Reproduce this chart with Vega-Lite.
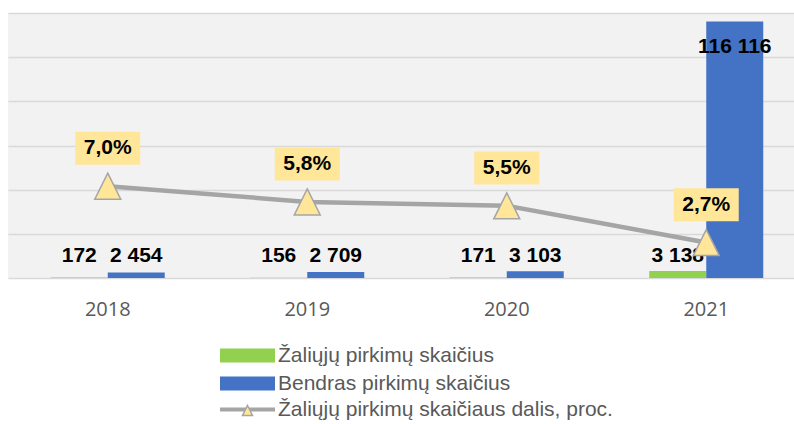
{
  "$schema": "https://vega.github.io/schema/vega-lite/v6.json",
  "width": 798,
  "height": 265,
  "autosize": "none",
  "padding": {"left": 8, "top": 13, "right": 0, "bottom": 146},
  "background": "white",
  "config": {
    "locale": {"number": {"decimal": ",", "thousands": " ", "grouping": [3], "currency": ["", " €"]}},
    "view": {"fill": "#f2f2f2", "stroke": null},
    "font": "Liberation Sans"
  },
  "datasets": {
    "bars": [
      {"year": "2018", "series": "Žaliųjų pirkimų skaičius", "value": 172},
      {"year": "2018", "series": "Bendras pirkimų skaičius", "value": 2454},
      {"year": "2019", "series": "Žaliųjų pirkimų skaičius", "value": 156},
      {"year": "2019", "series": "Bendras pirkimų skaičius", "value": 2709},
      {"year": "2020", "series": "Žaliųjų pirkimų skaičius", "value": 171},
      {"year": "2020", "series": "Bendras pirkimų skaičius", "value": 3103},
      {"year": "2021", "series": "Žaliųjų pirkimų skaičius", "value": 3138},
      {"year": "2021", "series": "Bendras pirkimų skaičius", "value": 116116}
    ],
    "pct": [
      {"year": "2018", "series": "Žaliųjų pirkimų skaičiaus dalis, proc.", "pct": 0.070},
      {"year": "2019", "series": "Žaliųjų pirkimų skaičiaus dalis, proc.", "pct": 0.058},
      {"year": "2020", "series": "Žaliųjų pirkimų skaičiaus dalis, proc.", "pct": 0.055},
      {"year": "2021", "series": "Žaliųjų pirkimų skaičiaus dalis, proc.", "pct": 0.027}
    ]
  },
  "layer": [
    {
      "data": {"name": "bars"},
      "layer": [
        {
          "mark": {"type": "bar"},
          "encoding": {
            "x": {
              "field": "year", "type": "nominal",
              "scale": {"paddingInner": 0.4286, "paddingOuter": 0.2143},
              "axis": {"title": null, "labelFont": "Open Sans", "labelFontSize": 20, "labelColor": "#595959", "ticks": false, "tickSize": 0, "domain": false, "labelPadding": 31, "labelBaseline": "middle", "labelAngle": 0}
            },
            "xOffset": {
              "field": "series",
              "scale": {"domain": ["Žaliųjų pirkimų skaičius", "Bendras pirkimų skaičius"], "paddingInner": 0, "paddingOuter": 0}
            },
            "y": {
              "field": "value", "type": "quantitative",
              "scale": {"domain": [0, 120000], "nice": false},
              "axis": {"title": null, "labels": false, "ticks": false, "domain": false, "grid": true, "gridColor": "#d9d9d9", "gridWidth": 1.3, "values": [0, 20000, 40000, 60000, 80000, 100000, 120000]}
            },
            "color": {
              "field": "series", "type": "nominal",
              "scale": {
                "domain": ["Žaliųjų pirkimų skaičius", "Bendras pirkimų skaičius", "Žaliųjų pirkimų skaičiaus dalis, proc."],
                "range": ["#92d050", "#4472c4", "#a5a5a5"]
              },
              "legend": {
                "orient": "none", "legendX": 229, "legendY": 332, "direction": "vertical", "title": null,
                "labelFont": "Liberation Sans", "labelFontSize": 21, "labelColor": "#595959", "labelLimit": 500,
                "symbolSize": 100, "symbolStrokeWidth": 4, "labelOffset": 20, "rowPadding": 1, "padding": 0, "symbolOffset": 0,
                "encode": {
                  "symbols": {
                    "update": {
                      "shape": {"signal": "datum.value === 'Žaliųjų pirkimų skaičiaus dalis, proc.' ? 'M-5.5,0H5.5' : 'M-5.1,-1H5.1V1H-5.1Z'"},
                      "fill": {"signal": "datum.value === 'Žaliųjų pirkimų skaičiaus dalis, proc.' ? 'transparent' : (datum.value === 'Bendras pirkimų skaičius' ? '#4472c4' : '#92d050')"},
                      "stroke": {"signal": "datum.value === 'Žaliųjų pirkimų skaičiaus dalis, proc.' ? '#a5a5a5' : 'transparent'"},
                      "strokeWidth": {"value": 4},
                      "opacity": {"value": 1}
                    }
                  }
                }
              }
            }
          }
        },
        {
          "transform": [{"filter": "datum.value < 50000"}],
          "mark": {"type": "text", "fontWeight": "bold", "fontSize": 21, "baseline": "middle", "dy": -22, "color": "#000000"},
          "encoding": {
            "x": {"field": "year", "type": "nominal"},
            "xOffset": {"field": "series"},
            "y": {"datum": 0, "type": "quantitative"},
            "text": {"field": "value", "type": "quantitative", "format": ",d"}
          }
        },
        {
          "transform": [{"filter": "datum.value >= 50000"}],
          "mark": {"type": "text", "fontWeight": "bold", "fontSize": 21, "baseline": "middle", "dy": 25, "color": "#000000"},
          "encoding": {
            "x": {"field": "year", "type": "nominal"},
            "xOffset": {"field": "series"},
            "y": {"field": "value", "type": "quantitative"},
            "text": {"field": "value", "type": "quantitative", "format": ",d"}
          }
        }
      ]
    },
    {
      "data": {"name": "pct"},
      "layer": [
        {
          "mark": {"type": "line", "strokeWidth": 4.5},
          "encoding": {
            "x": {"field": "year", "type": "nominal"},
            "y": {"field": "pct", "type": "quantitative", "scale": {"domain": [0, 0.202], "nice": false}, "axis": null},
            "color": {"field": "series", "type": "nominal"}
          }
        },
        {
          "mark": {"type": "point", "filled": true, "fill": "#ffe699", "stroke": "#a5a5a5", "strokeWidth": 1.5, "size": 676, "opacity": 1},
          "encoding": {
            "x": {"field": "year", "type": "nominal"},
            "y": {"field": "pct", "type": "quantitative"},
            "shape": {
              "field": "series", "type": "nominal",
              "scale": {"domain": ["Žaliųjų pirkimų skaičiaus dalis, proc."], "range": ["M0,-1L1,1L-1,1Z"]},
              "legend": {
                "orient": "none", "legendX": 229, "legendY": 387, "title": null,
                "labelFontSize": 21, "labelExpr": "''", "symbolSize": 100, "padding": 0, "symbolOffset": 0,
                "encode": {
                  "symbols": {
                    "update": {
                      "fill": {"value": "#ffe699"},
                      "stroke": {"value": "#a5a5a5"},
                      "strokeWidth": {"value": 1},
                      "opacity": {"value": 1},
                      "size": {"value": 100}
                    }
                  }
                }
              }
            }
          }
        },
        {
          "mark": {"type": "point", "filled": true, "fill": "#ffe699", "strokeWidth": 0, "size": 4225, "opacity": 1, "shape": "M-1,-1.675H1V-0.66H-1Z"},
          "encoding": {
            "x": {"field": "year", "type": "nominal"},
            "y": {"field": "pct", "type": "quantitative"}
          }
        },
        {
          "mark": {"type": "text", "fontWeight": "bold", "fontSize": 21, "baseline": "middle", "dy": -38, "color": "#000000"},
          "encoding": {
            "x": {"field": "year", "type": "nominal"},
            "y": {"field": "pct", "type": "quantitative"},
            "text": {"field": "pct", "type": "quantitative", "format": ".1%"}
          }
        }
      ]
    }
  ],
  "resolve": {"scale": {"y": "independent"}}
}
